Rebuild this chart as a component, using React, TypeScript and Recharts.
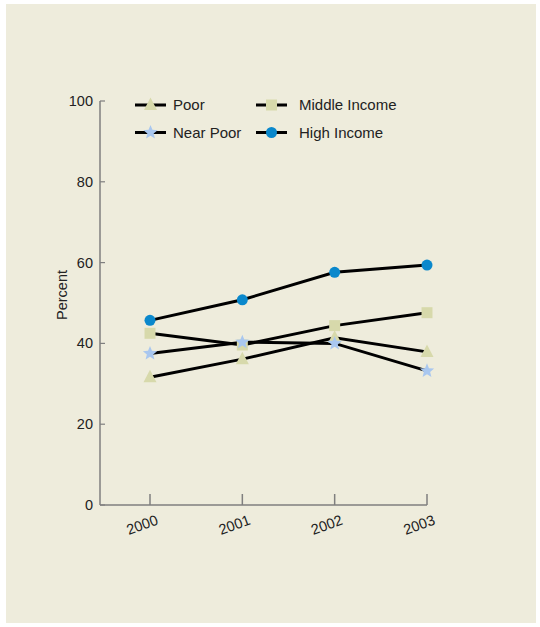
import React from 'react';
import { LineChart, Line, XAxis, YAxis } from 'recharts';

const years = ['2000', '2001', '2002', '2003'];
const poor = [31.6, 36.1, 41.4, 37.9];
const nearPoor = [37.5, 40.3, 40.0, 33.2];
const middleIncome = [42.5, 39.6, 44.4, 47.6];
const highIncome = [45.7, 50.8, 57.6, 59.4];
const yTicks = [0, 20, 40, 60, 80, 100];
const seriesNames = ['Poor', 'Near Poor', 'Middle Income', 'High Income'];

const data = years.map((y, i) => ({
  year: y,
  poor: poor[i],
  nearPoor: nearPoor[i],
  middle: middleIncome[i],
  high: highIncome[i],
}));

const FONT = 'Liberation Sans, Arial, Helvetica, sans-serif';
const BG = '#eeecdc';
const AXIS = '#7f7f7f';
const KHAKI = '#d7d9ab';
const BLUE = '#0a88cc';
const LIGHTBLUE = '#a9c7ef';

const Triangle = ({ cx, cy }: any) => (
  <polygon points={`${cx},${cy - 7.5} ${cx - 6.5},${cy + 5} ${cx + 6.5},${cy + 5}`} fill={KHAKI} />
);
const Square = ({ cx, cy }: any) => <rect x={cx - 5.5} y={cy - 5.5} width={11} height={11} fill={KHAKI} />;
const Circle = ({ cx, cy }: any) => <circle cx={cx} cy={cy} r={5.5} fill={BLUE} />;
const Star = ({ cx, cy }: any) => {
  const pts: string[] = [];
  for (let i = 0; i < 10; i++) {
    const r = i % 2 === 0 ? 7.5 : 3.3;
    const a = -Math.PI / 2 + (i * Math.PI) / 5;
    pts.push(`${cx + r * Math.cos(a)},${cy + r * Math.sin(a)}`);
  }
  return <polygon points={pts.join(' ')} fill={LIGHTBLUE} />;
};

const shapes = [Triangle, Star, Square, Circle];

const makeDot = (Shape: any) => (p: any) => <Shape key={`d${p.index}`} cx={p.cx} cy={p.cy} />;

const XTick = ({ x, y, payload }: any) => (
  <g>
    <line x1={x} x2={x} y1={y - 11} y2={y} stroke={AXIS} strokeWidth={1.5} />
    <text
      x={x + 9}
      y={y + 19}
      textAnchor="end"
      transform={`rotate(-20 ${x + 9} ${y + 19})`}
      fontSize={14.5}
      fontFamily={FONT}
      fill="#222"
    >
      {payload.value}
    </text>
  </g>
);

const YTick = ({ x, y, payload }: any) => (
  <g>
    <line x1={x} x2={x + 5} y1={y} y2={y} stroke={AXIS} strokeWidth={1.2} />
    <text x={x - 7} y={y + 5} textAnchor="end" fontSize={14.5} fontFamily={FONT} fill="#222">
      {payload.value}
    </text>
  </g>
);

const legendCols = [135, 256];
const legendTextGap = [38, 43];
const legendRows = [105, 132.5];

const LegendSvg = () => (
  <svg width={540} height={160} style={{ position: 'absolute', left: 0, top: 0 }}>
    {seriesNames.map((name, i) => {
      const c = Math.floor(i / 2);
      const lx = legendCols[c];
      const ly = legendRows[i % 2];
      const Shape = shapes[i];
      return (
        <g key={name}>
          <line x1={lx} x2={lx + 31} y1={ly} y2={ly} stroke="#000" strokeWidth={3} />
          <Shape cx={lx + 15.5} cy={ly} />
          <text x={lx + legendTextGap[c]} y={ly + 5} fontSize={15} fontFamily={FONT} fill="#222">
            {name}
          </text>
        </g>
      );
    })}
  </svg>
);

const YLabel = ({ viewBox }: any) => {
  const cx = viewBox.x + 27;
  const cy = viewBox.y + viewBox.height / 2 - 8;
  return (
    <text
      x={cx}
      y={cy}
      textAnchor="middle"
      transform={`rotate(-90 ${cx} ${cy})`}
      fontSize={14.5}
      fontFamily={FONT}
      fill="#222"
    >
      Percent
    </text>
  );
};

export default function App() {
  return (
    <div style={{ position: 'absolute', left: 0, top: 0, width: 540, height: 627, background: '#fff' }}>
      <div style={{ position: 'absolute', left: 6, top: 4, width: 530, height: 619, background: BG }} />
      <div style={{ position: 'absolute', left: 0, top: 0 }}>
        <LineChart width={540} height={627} data={data} margin={{ top: 101, right: 113, bottom: 62, left: 40 }}>
          <XAxis
            dataKey="year"
            padding={{ left: 50, right: 0 }}
            axisLine={{ stroke: AXIS, strokeWidth: 1.5 }}
            tickLine={false}
            tickSize={0}
            tickMargin={0}
            tick={<XTick />}
            interval={0}
            height={60}
          />
          <YAxis
            domain={[0, 100]}
            ticks={yTicks}
            width={60}
            axisLine={{ stroke: AXIS, strokeWidth: 1.5 }}
            tickLine={false}
            tickSize={0}
            tickMargin={0}
            tick={<YTick />}
            label={<YLabel />}
          />
          <Line dataKey="middle" name={seriesNames[2]} stroke="#000" strokeWidth={3} dot={makeDot(Square)} activeDot={false} isAnimationActive={false} />
          <Line dataKey="poor" name={seriesNames[0]} stroke="#000" strokeWidth={3} dot={makeDot(Triangle)} activeDot={false} isAnimationActive={false} />
          <Line dataKey="nearPoor" name={seriesNames[1]} stroke="#000" strokeWidth={3} dot={makeDot(Star)} activeDot={false} isAnimationActive={false} />
          <Line dataKey="high" name={seriesNames[3]} stroke="#000" strokeWidth={3} dot={makeDot(Circle)} activeDot={false} isAnimationActive={false} />
        </LineChart>
      </div>
      <LegendSvg />
    </div>
  );
}
